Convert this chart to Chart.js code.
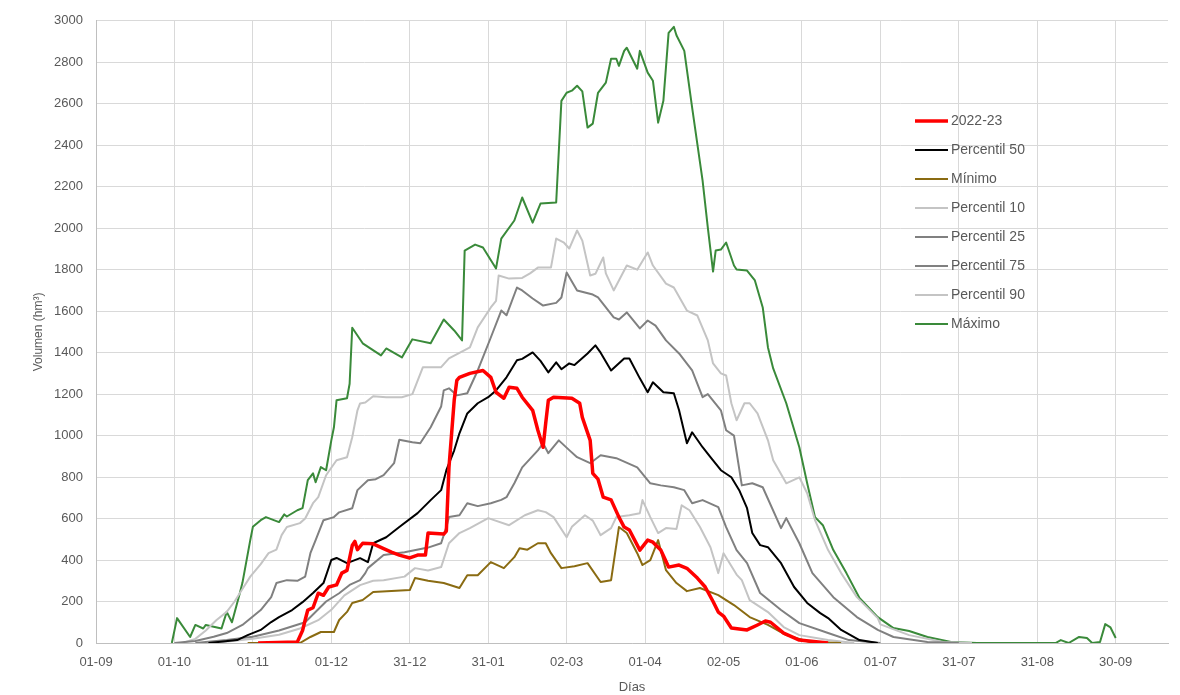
<!DOCTYPE html>
<html>
<head>
<meta charset="utf-8">
<script src="https://cdn.jsdelivr.net/npm/chart.js@4.4.1/dist/chart.umd.min.js"></script>
<style>
  html, body { margin: 0; padding: 0; background: #fff; }
  #wrap { width: 1180px; height: 695px; }
</style>
</head>
<body>
<div id="wrap"><canvas id="chart" width="1180" height="695"></canvas></div>
<script>
// x axis = days counted from 01-09
const tickDays = [0, 30, 60, 90, 120, 150, 180, 210, 240, 270, 300, 330, 360, 390];
const tickLabels = ['01-09','01-10','01-11','01-12','31-12','31-01','02-03','01-04','02-05','01-06','01-07','31-07','31-08','30-09'];

// 2022-23
const redDays = [62,77,79,80,81,83,85,87,89,92,94,96,98,99,100,102,106,110,113,116,120,123,126,127,133,134,135,137,138,139,143,148,151,153,156,158,161,163,167,169,171,172,173,175,182,185,186,189,190,192,194,197,200,202,204,208,211,213,216,219,223,226,230,233,236,238,240,243,249,253,256,258,263,269,280];
const redVals = [0,5,60,111,159,170,240,230,270,280,337,350,470,490,450,481,478,455,438,424,410,424,424,530,525,540,847,1170,1266,1281,1300,1314,1281,1209,1180,1233,1228,1185,1122,1026,944,1060,1170,1185,1180,1156,1088,977,818,790,703,690,607,559,545,448,496,486,448,366,376,360,313,270,200,149,130,72,63,87,106,100,48,14,0];

// Percentil 50
const p50Days = [43,54,58,63,67,70,75,79,83,87,90,92,96,101,104,106,111,116,123,128,132,134,137,139,142,146,150,153,157,161,163,167,170,173,176,178,181,183,188,191,193,197,202,204,208,211,213,217,221,223,226,228,232,235,239,243,246,249,251,254,257,262,267,272,277,280,285,292,299];
const p50Vals = [0,14,38,63,101,125,159,197,241,289,400,410,385,409,390,481,510,559,626,689,737,833,929,1011,1107,1156,1185,1218,1281,1363,1370,1401,1360,1305,1353,1320,1348,1340,1396,1435,1400,1314,1372,1372,1276,1209,1257,1209,1204,1122,963,1016,944,896,833,799,737,650,530,472,462,385,270,193,144,120,63,14,0];

// Mínimo
const minDays = [58,78,82,86,91,93,96,98,102,106,120,122,127,133,139,142,146,151,156,160,162,165,169,172,174,178,183,188,193,197,200,203,207,209,212,215,218,222,226,231,238,244,250,257,264,273,285];
const minVals = [0,0,29,53,53,111,150,193,207,246,255,313,300,289,265,327,327,390,361,414,457,450,481,481,433,361,370,385,294,303,559,530,433,376,400,496,351,289,250,265,231,183,125,87,38,5,0];

// Percentil 10
const p10Days = [45,60,70,78,85,90,95,101,106,110,118,122,127,132,135,139,143,150,158,164,169,172,175,180,182,187,190,193,197,199,204,208,209,212,215,218,222,224,227,231,235,238,240,245,247,250,257,263,269,280,290];
const p10Vals = [0,20,40,70,110,160,230,279,300,303,320,361,350,366,481,530,554,602,568,616,640,631,607,510,560,616,590,520,554,607,616,626,689,607,530,554,550,664,640,559,462,337,433,330,303,207,149,77,38,14,0];

// Percentil 25
const p25Days = [38,50,60,70,80,88,93,97,101,103,104,110,118,127,132,134,135,139,142,146,151,155,157,160,163,169,171,173,177,181,184,189,193,199,207,212,216,221,225,228,232,238,241,245,249,254,262,269,280,288,300];
const p25Vals = [0,14,30,60,100,200,240,280,303,337,361,424,438,460,481,559,607,616,674,660,674,690,703,770,847,929,963,915,977,930,896,867,905,891,847,770,760,751,737,674,689,655,559,448,385,241,159,96,48,14,0];

// Percentil 75
const p75Days = [30,38,45,50,56,63,67,69,73,77,80,82,84,87,91,93,98,100,104,107,110,114,116,121,124,128,132,133,135,138,142,146,151,155,157,161,163,167,171,176,178,180,184,190,192,198,200,203,208,211,214,218,223,228,232,234,239,241,244,247,251,255,262,264,269,274,282,291,299,305,318,330];
const p75Vals = [0,10,30,48,87,159,221,289,303,300,320,433,496,592,607,630,650,737,785,790,809,867,980,968,963,1040,1140,1218,1228,1194,1204,1314,1473,1603,1580,1714,1700,1661,1627,1640,1666,1786,1700,1680,1666,1570,1560,1594,1517,1555,1530,1459,1396,1314,1185,1200,1122,1026,1000,760,770,751,554,602,481,337,221,125,63,29,5,0];

// Percentil 90
const p90Days = [33,38,42,46,50,53,56,59,63,66,69,71,73,78,80,83,85,88,92,96,98,100,101,103,106,111,117,121,125,132,135,143,146,151,153,154,158,163,166,169,174,176,179,181,184,186,189,191,194,195,198,203,207,211,213,218,221,226,230,234,236,239,241,243,245,248,250,253,257,259,264,269,272,275,280,285,291,299,300,311,324,335];
const p90Vals = [0,20,60,110,150,200,260,320,380,433,450,520,559,578,600,674,703,809,881,896,992,1122,1155,1160,1190,1185,1185,1200,1329,1330,1372,1425,1522,1618,1650,1772,1757,1760,1782,1810,1810,1950,1930,1902,1989,1940,1772,1780,1859,1782,1700,1820,1800,1883,1820,1733,1714,1603,1579,1459,1348,1300,1290,1156,1074,1156,1156,1107,977,881,770,799,722,592,448,337,221,120,90,38,5,0];

// Máximo
const maxDays = [29,31,36,38,41,42,48,50,52,55,56,59,60,63,65,70,72,73,77,79,81,83,84,86,88,90,91,92,96,97,98,102,109,111,117,121,128,133,137,140,141,145,148,153,155,160,163,167,170,176,178,180,182,184,186,188,190,192,195,197,199,200,202,203,207,208,211,213,215,217,219,221,222,225,228,232,234,236,237,239,241,244,245,249,252,255,257,259,264,269,272,275,278,282,287,292,299,305,311,318,327,337,367,369,372,376,379,381,384,386,388,390];
const maxVals = [0,120,29,87,70,87,70,150,100,240,290,496,560,592,607,583,620,610,640,650,785,818,775,848,833,977,1040,1170,1180,1250,1520,1445,1387,1420,1377,1464,1445,1560,1507,1459,1892,1921,1907,1806,1950,2037,2148,2027,2119,2124,2614,2653,2663,2687,2660,2485,2504,2653,2702,2817,2817,2783,2855,2870,2769,2855,2750,2711,2509,2614,2942,2971,2930,2855,2581,2229,2003,1791,1892,1897,1931,1820,1801,1796,1748,1618,1425,1324,1156,944,770,607,568,448,337,217,125,72,58,29,5,0,0,14,0,29,24,0,5,91,75,24];

const seriesNames = ['2022-23','Percentil 50','Mínimo','Percentil 10','Percentil 25','Percentil 75','Percentil 90','Máximo'];

function pts(days, vals) {
  return days.map((d, i) => ({ x: d, y: vals[i] }));
}

function line(label, days, vals, color, width) {
  return {
    label: label,
    data: pts(days, vals),
    borderColor: color,
    backgroundColor: color,
    borderWidth: width,
    pointRadius: 0,
    tension: 0,
    fill: false,
    borderJoinStyle: 'round'
  };
}

const txt = '#595959';
const fontFam = '"Liberation Sans", Arial, sans-serif';

// legend drawn inside the plot, like the original
const insideLegend = {
  id: 'insideLegend',
  afterDatasetsDraw(chart) {
    const c = chart.ctx;
    c.save();
    c.font = '14px ' + fontFam;
    c.textBaseline = 'middle';
    chart.data.datasets.forEach((ds, i) => {
      const y = 121 + i * 29;
      c.strokeStyle = ds.borderColor;
      c.lineWidth = ds.borderWidth;
      c.beginPath();
      c.moveTo(915, y);
      c.lineTo(948, y);
      c.stroke();
      c.fillStyle = txt;
      c.fillText(ds.label, 951, y);
    });
    c.restore();
  }
};

const ctx = document.getElementById('chart');

new Chart(ctx, {
  type: 'line',
  data: {
    datasets: [
      line(seriesNames[0], redDays, redVals, '#ff0000', 3.5),
      line(seriesNames[1], p50Days, p50Vals, '#000000', 2),
      line(seriesNames[2], minDays, minVals, '#8a6b12', 2),
      line(seriesNames[3], p10Days, p10Vals, '#c4c4c4', 2),
      line(seriesNames[4], p25Days, p25Vals, '#808080', 2),
      line(seriesNames[5], p75Days, p75Vals, '#808080', 2),
      line(seriesNames[6], p90Days, p90Vals, '#c4c4c4', 2),
      line(seriesNames[7], maxDays, maxVals, '#3a8a3a', 2)
    ]
  },
  options: {
    responsive: false,
    animation: false,
    devicePixelRatio: 1,
    layout: { padding: { top: 20, right: 12, left: 0, bottom: 0 } },
    plugins: {
      legend: { display: false },
      tooltip: { enabled: false }
    },
    scales: {
      x: {
        type: 'linear',
        min: 0,
        max: 410,
        afterBuildTicks: (s) => { s.ticks = tickDays.map(v => ({ value: v })); },
        afterFit: (s) => { s.height = 52; },
        ticks: {
          autoSkip: false,
          maxRotation: 0,
          padding: 12,
          color: txt,
          font: { family: fontFam, size: 13 },
          callback: (v) => tickLabels[tickDays.indexOf(v)]
        },
        grid: { color: '#d9d9d9', drawTicks: false },
        border: { color: '#bfbfbf' },
        title: {
          display: true,
          text: 'Días',
          color: txt,
          font: { family: fontFam, size: 13 },
          padding: { top: 0, bottom: 0 }
        }
      },
      y: {
        min: 0,
        max: 3000,
        afterFit: (s) => { s.width = 96; },
        ticks: {
          stepSize: 200,
          padding: 13,
          color: txt,
          font: { family: fontFam, size: 13 },
          callback: (v) => String(v)
        },
        grid: { color: '#d9d9d9', drawTicks: false },
        border: { color: '#bfbfbf' },
        title: {
          display: true,
          text: 'Volumen (hm³)',
          color: txt,
          font: { family: fontFam, size: 12 },
          padding: { top: 31, bottom: 0 }
        }
      }
    }
  },
  plugins: [insideLegend]
});
</script>
</body>
</html>
